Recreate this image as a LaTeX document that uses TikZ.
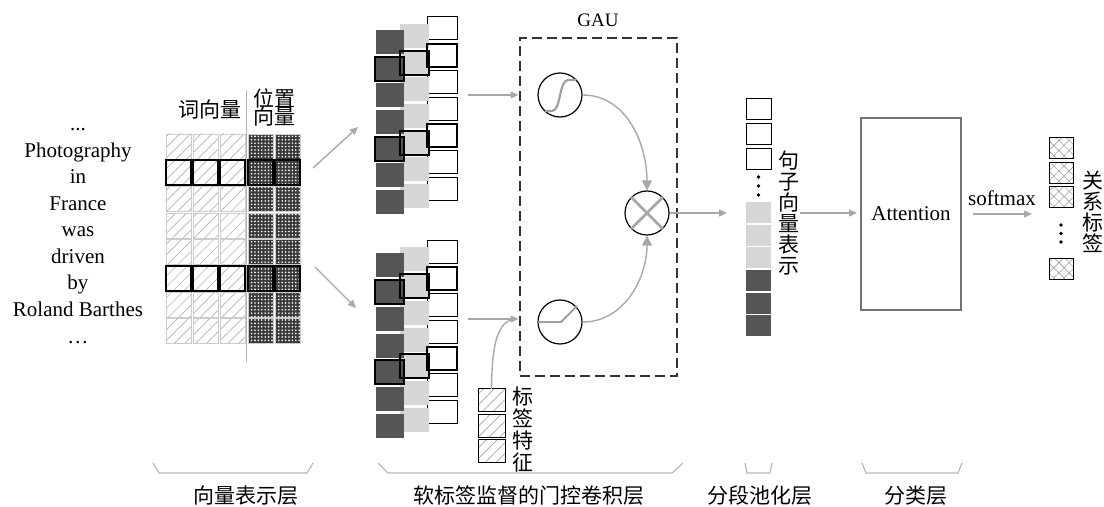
\documentclass[tikz,border=0pt]{standalone}
\usepackage{fontspec}
\setmainfont{Liberation Serif}
\newfontfamily\cjk{Noto Sans CJK SC}
\usetikzlibrary{patterns,patterns.meta,arrows.meta}
\definecolor{arr}{HTML}{A8A8A8}
\definecolor{dk}{HTML}{555555}
\definecolor{lt}{HTML}{D6D6D6}
\definecolor{pdk}{HTML}{3A3A3A}
\begin{document}
\begin{tikzpicture}[x=0.5pt,y=-0.5pt,
  lat/.style={font=\fontsize{10.5}{12}\selectfont, inner sep=0pt},
  cjkl/.style={font=\cjk\fontsize{10.5}{12}\selectfont, inner sep=0pt},
  vlab/.style={font=\cjk\fontsize{10.5}{10.5}\selectfont, inner sep=0pt, align=center},
  cell/.style={rectangle, inner sep=0pt, outer sep=0pt, anchor=north west},
  wcell/.style={cell, minimum width=12.5pt, minimum height=12.5pt, draw=gray!40, line width=0.4pt,
     pattern={Lines[angle=45,distance=3.8pt,line width=0.35pt]}, pattern color=gray!60},
  pcell/.style={cell, minimum width=12.5pt, minimum height=12.5pt, draw=gray!40, line width=0.4pt,
     preaction={fill=pdk}, pattern={Dots[distance=1.7pt,radius=0.45pt]}, pattern color=white},
  whcell/.style={cell, minimum width=15pt, minimum height=11.5pt, draw=black, line width=0.5pt, fill=white},
  ltcell/.style={cell, minimum width=14.5pt, minimum height=12pt, fill=lt},
  dkcell/.style={cell, minimum width=14pt, minimum height=12pt, fill=dk},
  thickb/.style={draw=black, line width=0.9pt},
  pool/.style={cell, minimum width=12.5pt, minimum height=10.5pt},
  lfcell/.style={cell, minimum width=13.5pt, minimum height=11.5pt, draw=black, line width=0.5pt,
     pattern={Lines[angle=45,distance=3.8pt,line width=0.35pt]}, pattern color=gray!70},
  outcell/.style={cell, minimum width=12pt, minimum height=10.5pt, draw=black, line width=0.5pt,
     pattern={Hatch[angle=45,distance=3.6pt,line width=0.3pt]}, pattern color=gray!75},
  garrow/.style={draw=arr, line width=0.7pt, -{Triangle[length=4pt,width=3.5pt]}},
  bigarrow/.style={draw=arr, line width=0.7pt, -{Triangle[length=5pt,width=5pt]}},
  gline/.style={draw=arr, line width=0.7pt},
  circ/.style={circle, draw=black, line width=0.6pt, minimum size=22pt, inner sep=0pt},
  gaubox/.style={rectangle, draw=black!80, line width=1pt, dash pattern=on 5pt off 2.5pt,
     minimum width=78.5pt, minimum height=169pt, inner sep=0pt},
  attbox/.style={rectangle, draw=black!55, line width=0.8pt, minimum width=50pt, minimum height=96pt,
     inner sep=0pt, font=\fontsize{10.5}{12}\selectfont},
  brk/.style={draw=gray!55, line width=0.6pt}
]
\useasboundingbox (0,0) rectangle (1104,507);

% ---- word list ----
\node[lat, anchor=base] (t0) at (78,131) {...};
\node[lat, anchor=base] (t1) at (78,157.5) {Photography};
\node[lat, anchor=base] (t2) at (78,184) {in};
\node[lat, anchor=base] (t3) at (78,210.5) {France};
\node[lat, anchor=base] (t4) at (78,237) {was};
\node[lat, anchor=base] (t5) at (78,263.5) {driven};
\node[lat, anchor=base] (t6) at (78,290) {by};
\node[lat, anchor=base] (t7) at (78,316.5) {Roland Barthes};
\node[lat, anchor=base] (t8) at (78,344) {\ldots};

% ---- embedding grid ----
\draw[gray!60, line width=0.8pt] (246.5,90) -- (246.5,362);
\foreach \r in {0,...,7} {
  \foreach \c in {0,1,2} { \node[wcell] (w\r\c) at (166+27*\c,134+26.4*\r) {}; }
  \foreach \c in {0,1} { \node[pcell] (p\r\c) at (248+27*\c,134+26.4*\r) {}; }
}
\foreach \r in {1,5} {
  \foreach \c in {0,1,2} { \draw[thickb] (w\r\c.north west) rectangle (w\r\c.south east); }
  \foreach \c in {0,1} { \draw[thickb] (p\r\c.north west) rectangle (p\r\c.south east); }
}
\node[cjkl] (lwv) at (210,110) {词向量};
\node[cjkl] (lpv1) at (274,98) {位置};
\node[cjkl] (lpv2) at (274,117) {向量};

% ---- arrows to conv stacks ----
\coordinate (a1s) at (313,168); \coordinate (a1e) at (358,127);
\coordinate (a2s) at (315,267); \coordinate (a2e) at (356,308);
\draw[garrow] (a1s) -- (a1e);
\draw[garrow] (a2s) -- (a2e);

% ---- conv stacks ----
\foreach \dy/\nm in {0/u,223.5/l} {
  \foreach \i in {0,...,6} { \node[whcell] (\nm w\i) at (427,17+\dy+26.7*\i) {}; }
  \foreach \i in {0,...,6} { \node[ltcell] (\nm g\i) at (400,24+\dy+26.7*\i) {}; }
  \foreach \i in {0,...,6} { \node[dkcell] (\nm d\i) at (376,30+\dy+26.7*\i) {}; }
  \foreach \i in {1,4} {
    \draw[thickb] (\nm w\i.north west) rectangle (\nm w\i.south east);
    \draw[thickb] (\nm g\i.north west) rectangle (\nm g\i.south east);
    \draw[thickb] ([xshift=-0.5pt]\nm d\i.north west) rectangle (\nm d\i.south east);
  }
}

% ---- GAU ----
\node[gaubox] (gau) at (598,207) {};
\node[lat, font=\fontsize{9.5}{11}\selectfont] (gaul) at (598,20) {GAU};
\node[circ] (sig) at (560,95) {};
\node[circ] (relu) at (560,322) {};
\node[circ] (mul) at (647,213) {};
\draw[gray!75, line width=1.1pt] (545,111) -- (552,111) .. controls (561,111) and (559,80) .. (568,80) -- (576,80);
\draw[gray!75, line width=0.9pt] (538,322) -- (561,322) -- (577,306);
\draw[gray!70, line width=1.3pt] (mul.north west) -- (mul.south east);
\draw[gray!70, line width=1.3pt] (mul.north east) -- (mul.south west);
\draw[bigarrow] (sig.east) to[out=0,in=90] (mul.north);
\draw[bigarrow] (relu.east) to[out=0,in=-90] (mul.south);

\coordinate (ui) at (468,95);
\coordinate (li) at (468,319);
\draw[garrow] (ui) -- (ui -| gau.west);
\draw[garrow] (li) -- (li -| gau.west);

% ---- label features ----
\foreach \i in {0,1,2} { \node[lfcell] (lf\i) at (478,389+25.5*\i) {}; }
\node[vlab, font=\cjk\fontsize{10.5}{11}\selectfont] (lft) at (523,430) {标\\签\\特\\征};
\draw[gline] (lf0.north) .. controls (492,345) and (497,320) .. (516,319);

% ---- pooling ----
\coordinate (po) at (727,213);
\draw[garrow] (mul.east) -- (po);
\foreach \i in {0,1,2} { \node[pool, draw=black, line width=0.5pt] (pw\i) at (746,99+25*\i) {}; }
\foreach \k in {0,1,2} { \fill (758.5,177+9*\k) circle (0.9pt); }
\foreach \i in {0,1,2} { \node[pool, fill=lt] (pg\i) at (746,202+22.6*\i) {}; }
\foreach \i in {0,1,2} { \node[pool, fill=dk] (pd\i) at (746,270+22.6*\i) {}; }
\node[vlab] (jz) at (789,213) {句\\子\\向\\量\\表\\示};

% ---- attention ----
\coordinate (ps) at (800,213);
\coordinate (pe) at (857,213);
\draw[garrow] (ps) -- (pe);
\node[attbox] (att) at (911,214) {Attention};
\node[lat] (sm) at (1002,198) {softmax};
\coordinate (ss) at (973,214);
\coordinate (se) at (1032,214);
\draw[garrow] (ss) -- (se);

% ---- outputs ----
\foreach \i in {0,1,2} { \node[outcell] (o\i) at (1049,138+24.5*\i) {}; }
\foreach \k in {0,1,2} { \fill (1061,225+8.5*\k) circle (0.9pt); }
\node[outcell] (o3) at (1049,259) {};
\node[vlab] (gx) at (1093,212) {关\\系\\标\\签};

% ---- brackets ----
\draw[brk] (153,463) -- (159,473) -- (307,473) -- (313,463);
\draw[brk] (378,463) -- (388,473) -- (672,473) -- (683,463);
\draw[brk] (745,463) -- (747,473) -- (770,473) -- (772,463);
\draw[brk] (862,463) -- (866,473) -- (958,473) -- (962,463);
\node[cjkl] (b1) at (246,496) {向量表示层};
\node[cjkl] (b2) at (529,496) {软标签监督的门控卷积层};
\node[cjkl] (b3) at (760,496) {分段池化层};
\node[cjkl] (b4) at (916,496) {分类层};
\end{tikzpicture}
\end{document}
